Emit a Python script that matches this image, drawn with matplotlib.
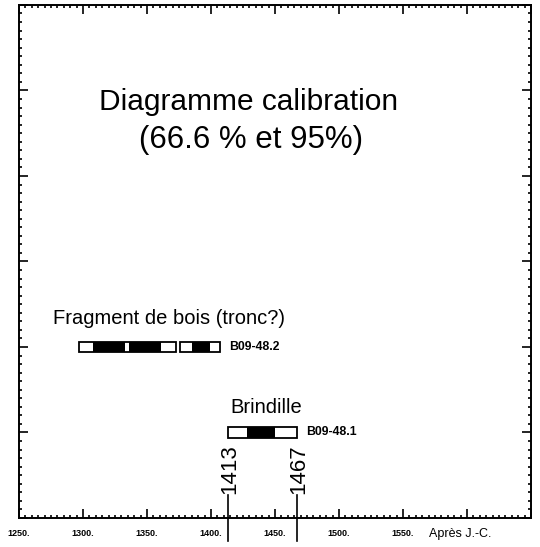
import numpy as np
import matplotlib.pyplot as plt
from matplotlib.ticker import MultipleLocator

plt.rcParams['font.family'] = ['Liberation Sans', 'DejaVu Sans']

# samples, top to bottom
samples = ["B09-48.2", "B09-48.1"]
groups = ["Fragment de bois (tronc?)", "Brindille"]
rows = [2, 1]
# 95% ranges (white boxes), years AD
ranges_95 = [[(1297, 1373), (1376, 1407)], [(1413, 1467)]]
# 66.6% ranges (black fill)
ranges_66 = [[(1308, 1333), (1336, 1361), (1385, 1399)], [(1428, 1450)]]
marks = [1413, 1467]
xtick_vals = [1250, 1300, 1350, 1400, 1450, 1500, 1550]
xtick_labels = ["1250.", "1300.", "1350.", "1400.", "1450.", "1500.", "1550."]

fig = plt.figure(figsize=(5.4, 5.47), dpi=100)
ax = fig.add_axes([0.0352, 0.053, 0.948, 0.938])
ax.set_xlim(1250, 1650)
ax.set_ylim(0, 6)

h = 0.118
for r, r95, r66 in zip(rows, ranges_95, ranges_66):
    for a, b in r95:
        ax.barh(r, b - a, left=a, height=h, color='white', edgecolor='none', zorder=2)
    for a, b in r66:
        ax.barh(r, b - a, left=a, height=h, color='black', edgecolor='none', zorder=3)
    for a, b in r95:
        ax.barh(r, b - a, left=a, height=h, color='none', edgecolor='black', linewidth=1.3, zorder=4)

for s, r, r95 in zip(samples, rows, ranges_95):
    ax.text(r95[-1][1] + 7.5, r, s, fontsize=8.8, fontweight='bold', ha='left', va='center')

ax.text(1367, 2.33, groups[0], fontsize=14.5, ha='center', va='center')
ax.text(1443, 1.29, groups[1], fontsize=14.5, ha='center', va='center')

ax.text(1429, 4.86, "Diagramme calibration", fontsize=21.5, ha='center', va='center')
ax.text(1431, 4.42, "(66.6 % et 95%)", fontsize=22.5, ha='center', va='center')

for m in marks:
    ax.plot([m, m], [-0.27, 0.27], color='black', linewidth=1.2, clip_on=False, zorder=5)
    ax.text(m + 1.5, 0.28, str(m), fontsize=16, rotation=90, ha='center', va='bottom')

ax.xaxis.set_major_locator(MultipleLocator(50))
ax.xaxis.set_minor_locator(MultipleLocator(5))
ax.yaxis.set_major_locator(MultipleLocator(1))
ax.yaxis.set_minor_locator(MultipleLocator(0.1))
ax.set_yticklabels([])
ax.set_xticklabels([])
ax.tick_params(which='both', direction='in', top=True, right=True, width=1.2)
ax.tick_params(which='major', length=6.5)
ax.tick_params(which='minor', length=2)
for sp in ax.spines.values():
    sp.set_linewidth(1.4)

for v, lab in zip(xtick_vals, xtick_labels):
    ax.text(v, -0.18, lab, fontsize=6.5, fontweight='bold', ha='center', va='center',
            clip_on=False)
ax.text(1570, -0.19, "Après J.-C.", fontsize=9, ha='left', va='center', clip_on=False)

fig.savefig("out.png", dpi=100)
